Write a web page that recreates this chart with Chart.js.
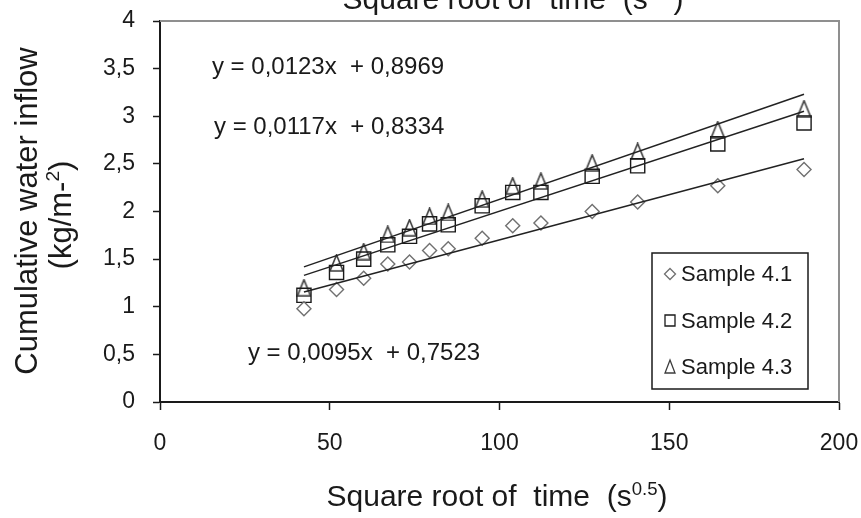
<!DOCTYPE html>
<html lang="en">
<head>
<meta charset="UTF-8" />
<title>Cumulative water inflow</title>
<script src="https://cdn.jsdelivr.net/npm/chart.js@4.4.1/dist/chart.umd.min.js"></script>
<style>
  body { margin: 0; background: #ffffff; }
  #wrap { width: 861px; height: 518px; position: relative; }
</style>
</head>
<body>
<div id="wrap"><canvas id="inflowChart"></canvas></div>
<script>
// values
const sqrtTime = [42.4, 52.0, 60.0, 67.1, 73.5, 79.4, 84.9, 94.9, 103.9, 112.2, 127.3, 140.7, 164.3, 189.7];
const sample41 = [0.98, 1.18, 1.30, 1.45, 1.47, 1.59, 1.61, 1.72, 1.85, 1.88, 2.00, 2.10, 2.27, 2.44];
const sample42 = [1.12, 1.36, 1.50, 1.65, 1.74, 1.87, 1.86, 2.06, 2.20, 2.20, 2.37, 2.48, 2.71, 2.93];
const sample43 = [1.20, 1.46, 1.58, 1.76, 1.83, 1.95, 1.99, 2.13, 2.27, 2.32, 2.51, 2.63, 2.86, 3.08];
const seriesNames = ["Sample 4.1", "Sample 4.2", "Sample 4.3"];
const slopes = [0.0095, 0.0117, 0.0123];
const intercepts = [0.7523, 0.8334, 0.8969];
const equationLabels = ["y = 0,0095x  + 0,7523", "y = 0,0117x  + 0,8334", "y = 0,0123x  + 0,8969"];
const xTicks = [0, 50, 100, 150, 200];
const yTicks = [0, 0.5, 1, 1.5, 2, 2.5, 3, 3.5, 4];

const FONT = "'Liberation Sans', Arial, sans-serif";
const markerColors = ["#707070", "#1a1a1a", "#3c3c3c"];

// tall triangle marker like the original
function triangleMarker(w, h, color, lw) {
  const c = document.createElement("canvas");
  c.width = w + 2;
  c.height = h + 2;
  const g = c.getContext("2d");
  g.strokeStyle = color;
  g.lineWidth = lw;
  g.beginPath();
  g.moveTo(c.width / 2, 1);
  g.lineTo(c.width - 1, c.height - 1);
  g.lineTo(1, c.height - 1);
  g.closePath();
  g.stroke();
  return c;
}
const triBig = triangleMarker(13, 16, markerColors[2], 1.6);

function pts(ys) {
  return sqrtTime.map((x, i) => ({ x: x, y: ys[i] }));
}
function trend(k) {
  const x0 = sqrtTime[0], x1 = sqrtTime[sqrtTime.length - 1];
  return [{ x: x0, y: slopes[k] * x0 + intercepts[k] }, { x: x1, y: slopes[k] * x1 + intercepts[k] }];
}

// draws text with superscript pieces
function drawParts(ctx, parts, size, x, y, align) {
  const sup = size * 0.62;
  let total = 0;
  parts.forEach(p => {
    ctx.font = (p.sup ? sup : size) + "px " + FONT;
    total += ctx.measureText(p.t).width;
  });
  let cx = align === "center" ? x - total / 2 : x;
  ctx.textAlign = "left";
  ctx.textBaseline = "alphabetic";
  parts.forEach(p => {
    ctx.font = (p.sup ? sup : size) + "px " + FONT;
    ctx.fillText(p.t, cx, p.sup ? y - size * 0.38 : y);
    cx += ctx.measureText(p.t).width;
  });
}

const xTitleParts = [{ t: "Square root of  time  (s" }, { t: "0.5", sup: true }, { t: ")" }];

const framePlugin = {
  id: "frame",
  beforeDatasetsDraw(chart) {
    const { ctx, chartArea: a } = chart;
    ctx.save();
    ctx.strokeStyle = "#8f8f8f";
    ctx.lineWidth = 2;
    ctx.beginPath();
    ctx.moveTo(a.left, a.top);
    ctx.lineTo(a.right, a.top);
    ctx.lineTo(a.right, a.bottom);
    ctx.stroke();
    ctx.restore();
  }
};

const textPlugin = {
  id: "texts",
  afterDraw(chart) {
    const { ctx, chartArea: a, scales } = chart;
    ctx.save();
    ctx.fillStyle = "#1a1a1a";

    // axis titles (the top copy is cut off by the page edge, as in the original)
    drawParts(ctx, xTitleParts, 30, 497, 506, "center");
    drawParts(ctx, xTitleParts, 30, 513, 9, "center");

    ctx.save();
    ctx.translate(37, 211);
    ctx.rotate(-Math.PI / 2);
    drawParts(ctx, [{ t: "Cumulative water inflow" }], 31, 0, 0, "center");
    ctx.restore();
    ctx.save();
    ctx.translate(71, 215);
    ctx.rotate(-Math.PI / 2);
    drawParts(ctx, [{ t: "(kg/m-" }, { t: "2", sup: true }, { t: ")" }], 31, 0, 0, "center");
    ctx.restore();

    // trend line equations, placed in data units
    const eqPos = [[25.9, 0.51], [15.9, 2.88], [15.3, 3.51]];
    ctx.font = "24px " + FONT;
    ctx.textAlign = "left";
    ctx.textBaseline = "middle";
    equationLabels.forEach((t, i) => {
      ctx.fillText(t, scales.x.getPixelForValue(eqPos[i][0]), scales.y.getPixelForValue(eqPos[i][1]));
    });

    // legend box
    const bx = a.right - 187, by = a.bottom - 149, bw = 156, bh = 136;
    ctx.strokeStyle = "#1a1a1a";
    ctx.lineWidth = 1.5;
    ctx.strokeRect(bx, by, bw, bh);
    ctx.font = "22px " + FONT;
    seriesNames.forEach((name, i) => {
      const cy = by + 21 + i * 46.5;
      const mx = bx + 18;
      ctx.fillStyle = "#1a1a1a";
      ctx.fillText(name, bx + 29, cy + 1);
      ctx.lineWidth = 1.3;
      ctx.strokeStyle = markerColors[i];
      ctx.beginPath();
      if (i === 0) {
        ctx.moveTo(mx, cy - 5.5); ctx.lineTo(mx + 5.5, cy); ctx.lineTo(mx, cy + 5.5); ctx.lineTo(mx - 5.5, cy);
      } else if (i === 1) {
        ctx.rect(mx - 5, cy - 5.5, 10, 11);
      } else {
        ctx.moveTo(mx, cy - 7); ctx.lineTo(mx + 5, cy + 6); ctx.lineTo(mx - 5, cy + 6);
      }
      ctx.closePath();
      ctx.stroke();
    });
    ctx.restore();
  }
};

const lineStyle = { type: "line", borderColor: "#222222", borderWidth: 1.5, pointRadius: 0, fill: false, order: 0 };

new Chart(document.getElementById("inflowChart"), {
  type: "scatter",
  data: {
    datasets: [
      { label: seriesNames[0], data: pts(sample41), pointStyle: "rectRot", pointRadius: 7, borderColor: markerColors[0], borderWidth: 1.4, backgroundColor: "rgba(0,0,0,0)", order: 1 },
      { label: seriesNames[1], data: pts(sample42), pointStyle: "rect", pointRadius: 10, borderColor: markerColors[1], borderWidth: 1.4, backgroundColor: "rgba(0,0,0,0)", order: 1 },
      { label: seriesNames[2], data: pts(sample43), pointStyle: triBig, borderColor: markerColors[2], order: 1 },
      Object.assign({ data: trend(0) }, lineStyle),
      Object.assign({ data: trend(1) }, lineStyle),
      Object.assign({ data: trend(2) }, lineStyle)
    ]
  },
  options: {
    responsive: true,
    maintainAspectRatio: false,
    animation: false,
    layout: { padding: { top: 21, right: 22, left: 0, bottom: 0 } },
    plugins: { legend: { display: false }, tooltip: { enabled: false } },
    scales: {
      x: {
        type: "linear",
        min: 0,
        max: 200,
        afterBuildTicks: s => { s.ticks = xTicks.map(v => ({ value: v })); },
        afterFit: s => { s.height = 116; s.paddingLeft = 0; s.paddingRight = 0; },
        ticks: { font: { family: FONT, size: 23 }, color: "#1a1a1a", padding: 20, maxRotation: 0 },
        grid: { drawOnChartArea: false, tickLength: 8, color: "#1a1a1a", tickWidth: 1.5 },
        border: { color: "#1a1a1a", width: 2 }
      },
      y: {
        type: "linear",
        min: 0,
        max: 4,
        afterBuildTicks: s => { s.ticks = yTicks.map(v => ({ value: v })); },
        afterFit: s => { s.width = 160; s.paddingTop = 0; s.paddingBottom = 0; },
        ticks: {
          font: { family: FONT, size: 23 },
          color: "#1a1a1a",
          padding: 18,
          callback: v => String(v).replace(".", ",")
        },
        grid: { drawOnChartArea: false, tickLength: 7, color: "#1a1a1a", tickWidth: 1.5 },
        border: { color: "#1a1a1a", width: 2 }
      }
    }
  },
  plugins: [framePlugin, textPlugin]
});
</script>
</body>
</html>
